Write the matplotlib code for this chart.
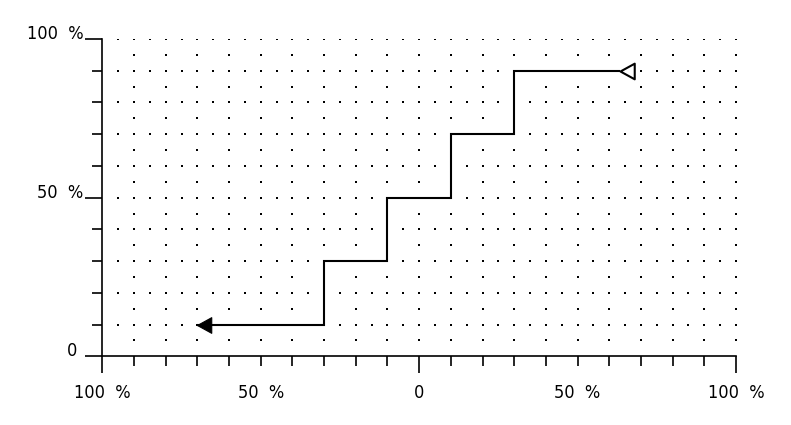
import numpy as np
import matplotlib
matplotlib.use("Agg")
import matplotlib.pyplot as plt
from matplotlib.path import Path
from matplotlib.transforms import blended_transform_factory

plt.rcParams['font.family'] = ['Liberation Sans Narrow', 'DejaVu Sans Condensed', 'DejaVu Sans']
plt.rcParams['font.stretch'] = 'condensed'

# step path: x edges and the level between them
step_x = [-70, -30, -10, 10, 30, 63.5]
step_y = [10, 30, 50, 70, 90]

x_ticks = [-100, -50, 0, 50, 100]
x_labels = ["100  %", "50  %", "0", "50  %", "100  %"]
y_ticks = [0, 50, 100]
y_labels = ["0", "50  %", "100  %"]

fig = plt.figure(figsize=(7.91, 4.25), dpi=100)
ax = fig.add_axes([102.3 / 791, 68.7 / 425, 633.7 / 791, 317.3 / 425])
ax.set_xlim(-100, 100)
ax.set_ylim(0, 100)

# dotted grid
gx, gy = np.meshgrid(np.arange(-95, 101, 5), np.arange(10, 101, 10))
hx, hy = np.meshgrid(np.arange(-90, 101, 10), np.arange(5, 100, 10))
ax.scatter(gx.ravel(), gy.ravel(), s=1.2, marker='s', c='black', linewidths=0, zorder=1)
ax.scatter(hx.ravel(), hy.ravel(), s=1.2, marker='s', c='black', linewidths=0, zorder=1)

ax.stairs(step_y, step_x, baseline=None, color='black', lw=1.5, zorder=3)

# arrow heads: tip sits on the data point
head = Path([(0, 0), (1, 0.55), (1, -0.55), (0, 0)],
            [Path.MOVETO, Path.LINETO, Path.LINETO, Path.CLOSEPOLY])
ax.plot(step_x[0], step_y[0], marker=head, ms=20.5, mfc='black', mec='black',
        mew=0.8, zorder=4, clip_on=False)
ax.plot(step_x[-1], step_y[-1], marker=head, ms=20.5, mfc='white', mec='black',
        mew=1.5, zorder=4, clip_on=False)

for s in ['top', 'right']:
    ax.spines[s].set_visible(False)
for s in ['left', 'bottom']:
    ax.spines[s].set_linewidth(1.2)

ax.set_xticks([-100, 0, 100])
ax.set_xticks(np.arange(-90, 100, 10), minor=True)
ax.set_yticks(y_ticks)
ax.set_yticks(np.arange(10, 100, 10), minor=True)
ax.tick_params(which='major', length=12, width=1.2, direction='out',
               labelbottom=False, labelleft=False)
ax.tick_params(which='minor', length=7.2, width=1.2, direction='out')

tx = blended_transform_factory(ax.transData, ax.transAxes)
for v, lab in zip(x_ticks, x_labels):
    ax.annotate(lab, (v, 0), xycoords=tx, xytext=(0, -20), textcoords='offset points',
                ha='center', va='top', fontsize=13)

ty = blended_transform_factory(ax.transAxes, ax.transData)
for v, lab in zip(y_ticks, y_labels):
    off = -18 if lab == "0" else -13.5
    ax.annotate(lab, (0, v), xycoords=ty, xytext=(off, 0), textcoords='offset points',
                ha='right', va='baseline', fontsize=13)

fig.savefig("out.png", dpi=100)
